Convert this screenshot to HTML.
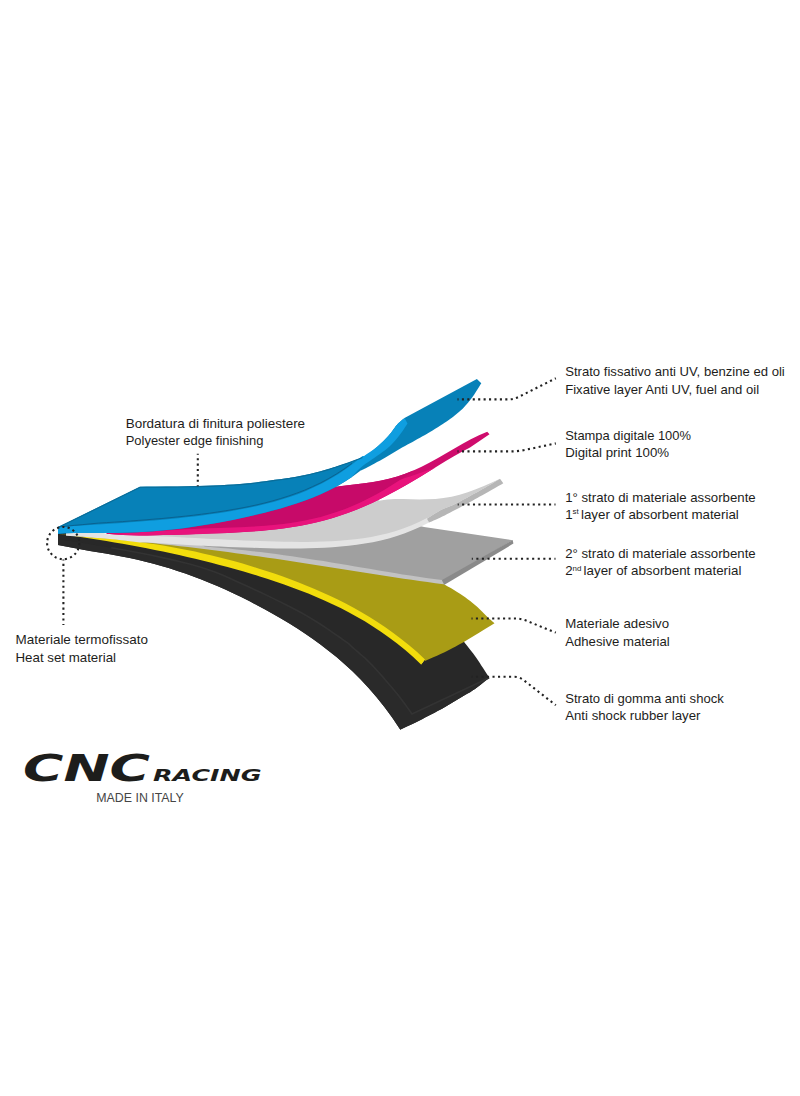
<!DOCTYPE html>
<html lang="it"><head><meta charset="utf-8"><title>CNC Racing - struttura a strati</title>
<style>
html,body{margin:0;padding:0;background:#fff;}
body{width:800px;height:1096px;overflow:hidden;}
svg{display:block;}
.lbl text{font-family:"Liberation Sans",sans-serif;font-size:12.1px;fill:#1d1d1b;}
</style></head><body>
<svg width="800" height="1096" viewBox="0 0 800 1096">
<rect width="800" height="1096" fill="#fff"/>
<g id="layers">
<path d="M58.0 531.0 L70.0 533.9 L78.0 535.1 L86.0 536.3 L94.0 537.6 L102.0 538.8 L110.0 540.1 L118.0 541.5 L126.0 542.9 L133.9 544.4 L141.9 545.9 L149.9 547.4 L157.9 549.0 L165.9 550.7 L173.9 552.4 L181.9 554.2 L189.9 556.0 L197.9 557.9 L205.9 559.9 L213.9 561.9 L221.9 564.0 L229.9 566.1 L237.9 568.4 L245.8 570.7 L253.8 573.1 L261.8 575.6 L269.8 578.1 L277.8 580.8 L285.8 583.6 L293.8 586.5 L301.8 589.5 L309.8 592.7 L317.8 596.0 L325.8 599.6 L333.8 603.3 L341.8 607.2 L349.8 611.3 L357.8 615.7 L365.7 620.4 L373.7 625.4 L381.7 630.7 L389.7 636.4 L397.7 642.5 L405.7 649.1 L413.7 656.1 L421.7 663.6 L440.0 640.0 L458.0 633.0 L464.5 642.5 L465.7 644.0 L467.3 646.0 L469.2 648.4 L471.2 651.0 L473.2 653.6 L475.0 656.0 L476.6 658.3 L478.3 660.7 L479.8 663.1 L481.3 665.4 L482.7 667.6 L484.0 669.5 L485.1 671.3 L486.2 672.9 L487.2 674.4 L488.0 675.8 L488.7 676.9 L489.2 677.7 L487.7 679.0 L485.5 680.7 L483.0 682.8 L480.3 685.0 L477.6 687.1 L475.0 689.0 L472.5 690.6 L470.1 692.2 L467.6 693.6 L465.0 695.1 L462.5 696.5 L460.0 698.0 L457.5 699.5 L455.0 701.0 L452.5 702.6 L450.0 704.1 L447.5 705.6 L445.0 707.0 L442.5 708.4 L440.0 709.8 L437.5 711.1 L435.0 712.4 L432.5 713.7 L430.0 715.0 L427.5 716.3 L425.0 717.6 L422.5 718.9 L420.0 720.2 L417.5 721.5 L415.0 722.7 L412.4 724.0 L409.6 725.3 L406.8 726.6 L404.2 727.8 L402.1 728.8 L400.5 729.5 L400.5 730.1 L392.5 718.1 L384.6 707.2 L376.6 697.2 L368.6 688.0 L360.7 679.4 L352.7 671.5 L344.7 664.2 L336.8 657.3 L328.8 650.9 L320.8 644.8 L312.9 639.0 L304.9 633.5 L297.0 628.3 L289.0 623.3 L281.0 618.5 L273.1 613.9 L265.1 609.5 L257.1 605.2 L249.2 601.1 L241.2 597.1 L233.2 593.3 L225.3 589.6 L217.3 586.1 L209.3 582.7 L201.4 579.5 L193.4 576.5 L185.4 573.6 L177.5 570.9 L169.5 568.3 L161.5 566.0 L153.6 563.8 L145.6 561.7 L137.7 559.8 L129.7 558.1 L121.7 556.5 L113.8 555.0 L105.8 553.6 L97.8 552.2 L89.9 550.9 L81.9 549.5 L73.9 548.1 L66.0 546.6 L58.0 544.9 Z" fill="#282828"/>
<path d="M58.0 539.0 L67.2 540.5 L80.1 542.6 L95.2 545.1 L111.3 547.8 L126.7 550.5 L140.0 553.0 L151.5 555.3 L162.4 557.6 L172.6 559.9 L182.3 562.2 L191.4 564.6 L200.0 567.0 L207.6 569.4 L214.1 571.7 L220.0 574.1 L225.9 576.6 L232.4 579.6 L240.0 583.0 L249.1 587.1 L259.3 591.8 L270.0 596.9 L280.7 602.1 L290.9 607.2 L300.0 612.0 L308.1 616.6 L315.7 621.3 L322.8 625.8 L329.3 630.1 L335.0 634.1 L340.0 637.5 L343.9 640.3 L346.9 642.4 L349.1 644.2 L350.9 645.9 L352.8 647.6 L355.0 649.5 L357.5 651.6 L360.0 653.8 L362.5 656.0 L365.0 658.2 L367.5 660.6 L370.0 663.0 L372.5 665.6 L375.0 668.2 L377.5 671.0 L380.0 673.8 L382.5 676.6 L385.0 679.5 L387.5 682.4 L390.1 685.4 L392.7 688.5 L395.2 691.6 L397.7 694.6 L400.0 697.5 L402.3 700.5 L404.7 703.7 L406.9 706.9 L409.0 709.8 L410.7 712.2 L412.0 714.0 L489.2 677.7 L487.7 679.0 L485.5 680.7 L483.0 682.8 L480.3 685.0 L477.6 687.1 L475.0 689.0 L472.5 690.6 L470.1 692.2 L467.6 693.6 L465.0 695.1 L462.5 696.5 L460.0 698.0 L457.5 699.5 L455.0 701.0 L452.5 702.6 L450.0 704.1 L447.5 705.6 L445.0 707.0 L442.5 708.4 L440.0 709.8 L437.5 711.1 L435.0 712.4 L432.5 713.7 L430.0 715.0 L427.5 716.3 L425.0 717.6 L422.5 718.9 L420.0 720.2 L417.5 721.5 L415.0 722.7 L412.4 724.0 L409.6 725.3 L406.8 726.6 L404.2 727.8 L402.1 728.8 L400.5 729.5 L400.5 730.1 L392.5 718.1 L384.6 707.2 L376.6 697.2 L368.6 688.0 L360.7 679.4 L352.7 671.5 L344.7 664.2 L336.8 657.3 L328.8 650.9 L320.8 644.8 L312.9 639.0 L304.9 633.5 L297.0 628.3 L289.0 623.3 L281.0 618.5 L273.1 613.9 L265.1 609.5 L257.1 605.2 L249.2 601.1 L241.2 597.1 L233.2 593.3 L225.3 589.6 L217.3 586.1 L209.3 582.7 L201.4 579.5 L193.4 576.5 L185.4 573.6 L177.5 570.9 L169.5 568.3 L161.5 566.0 L153.6 563.8 L145.6 561.7 L137.7 559.8 L129.7 558.1 L121.7 556.5 L113.8 555.0 L105.8 553.6 L97.8 552.2 L89.9 550.9 L81.9 549.5 L73.9 548.1 L66.0 546.6 L58.0 544.9 Z" fill="#2a2a2a"/>
<path d="M111.3 547.8 L126.7 550.5 L140.0 553.0 L151.5 555.3 L162.4 557.6 L172.6 559.9 L182.3 562.2 L191.4 564.6 L200.0 567.0 L207.6 569.4 L214.1 571.7 L220.0 574.1 L225.9 576.6 L232.4 579.6 L240.0 583.0 L249.1 587.1 L259.3 591.8 L270.0 596.9 L280.7 602.1 L290.9 607.2 L300.0 612.0 L308.1 616.6 L315.7 621.3 L322.8 625.8 L329.3 630.1 L335.0 634.1 L340.0 637.5 L343.9 640.3 L346.9 642.4 L349.1 644.2 L350.9 645.9 L352.8 647.6 L355.0 649.5 L357.5 651.6 L360.0 653.8 L362.5 656.0 L365.0 658.2 L367.5 660.6 L370.0 663.0 L372.5 665.6 L375.0 668.2 L377.5 671.0 L380.0 673.8 L382.5 676.6 L385.0 679.5 L387.5 682.4 L390.1 685.4 L392.7 688.5 L395.2 691.6 L397.7 694.6 L400.0 697.5 L402.3 700.5 L404.7 703.7 L406.9 706.9 L409.0 709.8 L410.7 712.2 L412.0 714.0 L489.2 677.7" fill="none" stroke="#333333" stroke-width="1.6"/>
<path d="M100.0 537.5 L107.9 538.3 L115.8 539.0 L123.7 539.7 L131.6 540.3 L139.5 540.9 L147.4 541.5 L155.3 542.0 L163.2 542.5 L171.1 543.0 L178.9 543.5 L186.8 543.9 L194.7 544.3 L202.6 544.7 L210.5 545.1 L218.4 545.5 L226.3 545.8 L234.2 546.1 L242.1 546.4 L250.0 546.7 L257.9 547.0 L265.8 547.2 L273.7 547.3 L281.6 547.4 L289.5 547.5 L297.4 547.5 L305.3 547.4 L313.2 547.2 L321.1 546.9 L328.9 546.5 L336.8 546.0 L344.7 545.3 L352.6 544.4 L360.5 543.3 L368.4 542.0 L376.3 540.5 L384.2 538.6 L392.1 536.5 L400.0 534.0 L443.5 584.0 L445.3 585.0 L447.8 586.5 L450.8 588.1 L454.0 590.0 L457.1 591.9 L460.0 593.7 L462.6 595.5 L465.2 597.3 L467.7 599.2 L470.2 601.1 L472.6 603.0 L475.0 605.0 L477.4 607.1 L479.7 609.3 L482.0 611.6 L484.2 613.8 L486.2 615.8 L488.0 617.5 L489.5 618.9 L490.9 620.1 L492.1 621.2 L493.1 622.0 L493.9 622.7 L494.5 623.3 L490.9 625.5 L485.9 628.6 L479.9 632.2 L473.7 636.0 L467.9 639.5 L463.0 642.4 L459.1 644.6 L455.7 646.5 L452.7 648.1 L449.9 649.5 L447.0 650.9 L444.0 652.4 L440.6 654.0 L437.0 655.7 L433.3 657.3 L429.9 658.8 L427.1 660.1 L425.0 661.0 L425.0 660.5 L417.1 653.1 L409.1 646.3 L401.2 639.9 L393.3 633.9 L385.4 628.2 L377.4 622.9 L369.5 618.0 L361.6 613.3 L353.7 608.8 L345.7 604.6 L337.8 600.6 L329.9 596.8 L322.0 593.2 L314.0 589.7 L306.1 586.4 L298.2 583.3 L290.2 580.3 L282.3 577.4 L274.4 574.6 L266.5 571.9 L258.5 569.4 L250.6 566.9 L242.7 564.6 L234.8 562.4 L226.8 560.2 L218.9 558.2 L211.0 556.2 L203.0 554.4 L195.1 552.7 L187.2 551.0 L179.3 549.4 L171.3 548.0 L163.4 546.6 L155.5 545.4 L147.6 544.2 L139.6 543.1 L131.7 542.1 L123.8 541.2 L115.9 540.3 L107.9 539.6 L100.0 538.9 Z" fill="#a99c15"/>
<path d="M62.0 534.3 L76.0 536.0 L83.9 536.6 L91.9 537.2 L99.8 537.9 L107.7 538.6 L115.7 539.3 L123.6 540.2 L131.5 541.1 L139.5 542.1 L147.4 543.2 L155.3 544.3 L163.2 545.6 L171.2 547.0 L179.1 548.4 L187.0 550.0 L195.0 551.6 L202.9 553.4 L210.8 555.2 L218.8 557.2 L226.7 559.2 L234.6 561.3 L242.6 563.6 L250.5 565.9 L258.4 568.4 L266.4 570.9 L274.3 573.6 L282.2 576.3 L290.2 579.2 L298.1 582.2 L306.0 585.4 L314.0 588.7 L321.9 592.2 L329.8 595.8 L337.8 599.6 L345.7 603.6 L353.6 607.8 L361.5 612.2 L369.5 616.9 L377.4 621.9 L385.3 627.2 L393.3 632.9 L401.2 638.9 L409.1 645.3 L417.1 652.1 L425.0 659.5 L421.3 664.6 L421.3 664.7 L413.2 657.1 L405.2 650.1 L397.1 643.5 L389.0 637.4 L380.9 631.7 L372.9 626.4 L364.8 621.3 L356.7 616.7 L348.6 612.2 L340.6 608.1 L332.5 604.2 L324.4 600.5 L316.3 596.9 L308.3 593.6 L300.2 590.4 L292.1 587.4 L284.1 584.5 L276.0 581.7 L267.9 579.0 L259.8 576.4 L251.8 573.9 L243.7 571.6 L235.6 569.2 L227.5 567.0 L219.5 564.9 L211.4 562.8 L203.3 560.7 L195.2 558.8 L187.2 556.9 L179.1 555.0 L171.0 553.3 L163.0 551.6 L154.9 549.9 L146.8 548.3 L138.7 546.7 L130.7 545.2 L122.6 543.8 L114.5 542.4 L106.4 541.1 L98.4 539.8 L90.3 538.5 L82.2 537.3 L74.1 536.0 L66.1 534.9 L58.0 533.7 Z" fill="#f2dd0c"/>
<path d="M190.0 544.1 L197.9 544.5 L205.9 544.9 L213.8 545.3 L221.7 545.6 L229.7 546.0 L237.6 546.3 L245.5 546.6 L253.4 546.8 L261.4 547.1 L269.3 547.2 L277.2 547.4 L285.2 547.5 L293.1 547.5 L301.0 547.4 L309.0 547.3 L316.9 547.1 L324.8 546.7 L332.8 546.3 L340.7 545.6 L348.6 544.9 L356.6 543.9 L364.5 542.7 L372.4 541.3 L380.3 539.6 L388.3 537.6 L396.2 535.2 L404.1 532.6 L412.1 529.5 L420.0 526.0 L424.0 527.0 L512.7 540.2 L442.6 581.5 L442.0 583.2 L434.1 582.2 L426.2 581.1 L418.4 580.0 L410.5 578.9 L402.6 577.7 L394.8 576.5 L386.9 575.3 L379.0 574.1 L371.1 572.9 L363.2 571.6 L355.4 570.4 L347.5 569.1 L339.6 567.9 L331.8 566.6 L323.9 565.4 L316.0 564.2 L308.1 562.9 L300.2 561.7 L292.4 560.5 L284.5 559.3 L276.6 558.2 L268.8 557.0 L260.9 555.9 L253.0 554.8 L245.1 553.7 L237.2 552.6 L229.4 551.5 L221.5 550.5 L213.6 549.5 L205.8 548.5 L197.9 547.5 L190.0 546.6 Z" fill="#a0a0a0"/>
<path d="M140.0 540.9 L147.5 541.5 L155.0 542.0 L162.5 542.5 L170.0 542.9 L177.5 543.4 L185.0 543.8 L192.5 544.2 L200.0 544.6 L205.0 546.5 L212.9 547.2 L220.8 547.9 L228.7 548.6 L236.6 549.4 L244.5 550.3 L252.4 551.2 L260.3 552.1 L268.2 553.1 L276.1 554.1 L284.0 555.2 L291.9 556.3 L299.8 557.5 L307.7 558.7 L315.6 559.9 L323.5 561.1 L331.4 562.4 L339.3 563.7 L347.2 565.1 L355.1 566.4 L363.0 567.8 L370.9 569.1 L378.8 570.4 L386.7 571.8 L394.6 573.1 L402.5 574.4 L410.4 575.6 L418.3 576.8 L426.2 578.0 L434.1 579.1 L442.0 580.1 L443.5 584.0 L443.5 584.2 L435.5 583.2 L427.5 582.1 L419.5 581.0 L411.6 579.8 L403.6 578.7 L395.6 577.5 L387.6 576.2 L379.6 575.0 L371.6 573.8 L363.6 572.5 L355.6 571.2 L347.7 570.0 L339.7 568.7 L331.7 567.4 L323.7 566.2 L315.7 564.9 L307.7 563.7 L299.7 562.4 L291.8 561.2 L283.8 560.0 L275.8 558.8 L267.8 557.7 L259.8 556.5 L251.8 555.4 L243.8 554.3 L235.8 553.2 L227.9 552.1 L219.9 551.1 L211.9 550.1 L203.9 549.1 L195.9 548.1 L187.9 547.1 L179.9 546.2 L171.9 545.3 L164.0 544.4 L156.0 543.5 L148.0 542.6 L140.0 541.7 Z" fill="#c2c2c2"/>
<path d="M512.7 540 L513.4 543.6 L444 585 L442 580 Z" fill="#8a8a8a"/>
<path d="M120.0 533.5 L128.1 533.0 L136.2 532.5 L144.3 531.9 L152.4 531.4 L160.5 530.8 L168.6 530.3 L176.7 529.8 L184.8 529.4 L192.8 529.0 L200.9 528.6 L209.0 528.3 L217.1 528.0 L225.2 527.8 L233.3 527.5 L241.4 527.2 L249.5 526.8 L257.6 526.3 L265.7 525.7 L273.8 525.0 L281.9 524.2 L290.0 523.1 L298.1 521.8 L306.2 520.3 L314.2 518.5 L322.3 516.5 L330.4 514.1 L338.5 511.4 L346.6 508.4 L354.7 505.0 L362.8 501.3 L370.9 497.2 L379.0 492.9 L379.0 500.7 L387.1 499.5 L395.1 499.0 L403.2 499.0 L411.3 499.2 L419.3 499.4 L427.4 499.3 L435.5 498.9 L443.5 498.1 L451.6 496.7 L459.7 494.8 L467.7 492.3 L475.8 489.3 L483.9 486.0 L491.9 482.4 L500.0 478.7 L498.4 479.7 L496.1 481.1 L493.4 482.7 L490.6 484.4 L487.7 486.1 L485.0 487.7 L482.5 489.1 L480.0 490.5 L477.5 491.9 L475.0 493.3 L472.5 494.6 L470.0 496.0 L467.5 497.4 L465.0 498.7 L462.5 500.1 L460.0 501.5 L457.5 502.8 L455.0 504.0 L452.5 505.2 L449.9 506.2 L447.4 507.2 L444.9 508.3 L442.4 509.3 L440.0 510.5 L437.6 511.9 L435.0 513.4 L432.6 515.0 L430.3 516.5 L428.4 517.8 L427.0 518.7 L428.0 521.0 L427.0 522.7 L418.9 526.7 L410.8 530.2 L402.8 533.3 L394.7 535.9 L386.6 538.2 L378.5 540.2 L370.4 541.8 L362.4 543.2 L354.3 544.4 L346.2 545.3 L338.1 546.1 L330.1 546.6 L322.0 547.1 L313.9 547.4 L305.8 547.6 L297.7 547.7 L289.7 547.7 L281.6 547.6 L273.5 547.5 L265.4 547.4 L257.3 547.1 L249.3 546.9 L241.2 546.6 L233.1 546.3 L225.0 546.0 L216.9 545.6 L208.9 545.2 L200.8 544.8 L192.7 544.4 L184.6 544.0 L176.6 543.5 L168.5 543.0 L160.4 542.5 L152.3 542.0 L144.2 541.4 L136.2 540.8 L128.1 540.2 L120.0 539.5 Z" fill="#cdcdcd"/>
<path d="M66.0 532.3 L74.5 532.1 L83.0 532.0 L91.5 532.0 L100.0 532.0 L108.0 534.2 L116.0 534.4 L124.0 534.7 L131.9 535.0 L139.9 535.3 L147.9 535.7 L155.8 536.0 L163.8 536.4 L171.8 536.8 L179.8 537.2 L187.8 537.7 L195.7 538.1 L203.7 538.5 L211.7 538.9 L219.6 539.3 L227.6 539.7 L235.6 540.0 L243.6 540.4 L251.5 540.7 L259.5 541.0 L267.5 541.3 L275.5 541.5 L283.4 541.7 L291.4 541.8 L299.4 541.9 L307.4 541.9 L315.4 541.7 L323.3 541.5 L331.3 541.2 L339.3 540.7 L347.2 540.1 L355.2 539.2 L363.2 538.2 L371.2 536.9 L379.1 535.3 L387.1 533.4 L395.1 531.2 L403.1 528.6 L411.1 525.6 L419.0 522.1 L427.0 518.0 L429.0 522.5 L429.0 522.4 L421.0 526.5 L412.9 530.1 L404.9 533.3 L396.9 536.0 L388.9 538.4 L380.8 540.4 L372.8 542.2 L364.8 543.6 L356.7 544.8 L348.7 545.8 L340.7 546.6 L332.7 547.3 L324.6 547.7 L316.6 548.1 L308.6 548.3 L300.5 548.5 L292.5 548.5 L284.5 548.5 L276.5 548.4 L268.4 548.2 L260.4 548.0 L252.4 547.8 L244.3 547.5 L236.3 547.2 L228.3 546.9 L220.3 546.6 L212.2 546.2 L204.2 545.8 L196.2 545.4 L188.1 545.0 L180.1 544.5 L172.1 544.1 L164.1 543.6 L156.0 543.0 L148.0 542.5 L140.0 542.4 L131.8 541.4 L123.6 540.5 L115.3 539.6 L107.1 538.8 L98.9 538.1 L90.7 537.4 L82.4 536.8 L74.2 536.2 L66.0 535.7 Z" fill="#e4e4e4"/>
<path d="M500.0 478.7 L498.4 479.7 L496.1 481.1 L493.4 482.7 L490.6 484.4 L487.7 486.1 L485.0 487.7 L482.5 489.1 L480.0 490.5 L477.5 491.9 L475.0 493.3 L472.5 494.6 L470.0 496.0 L467.5 497.4 L465.0 498.7 L462.5 500.1 L460.0 501.5 L457.5 502.8 L455.0 504.0 L452.5 505.2 L449.9 506.2 L447.4 507.2 L444.9 508.3 L442.4 509.3 L440.0 510.5 L437.6 511.9 L435.0 513.4 L432.6 515.0 L430.3 516.5 L428.4 517.8 L427.0 518.7 L429.0 522.5 L430.2 522.0 L431.7 521.4 L433.6 520.6 L435.6 519.7 L437.8 518.7 L440.0 517.7 L442.3 516.6 L444.7 515.4 L447.2 514.1 L449.9 512.7 L452.5 511.3 L455.0 510.0 L457.5 508.7 L460.0 507.4 L462.5 506.0 L465.0 504.7 L467.5 503.4 L470.0 502.0 L472.5 500.7 L474.9 499.3 L477.3 498.0 L479.8 496.6 L482.3 495.2 L485.0 493.7 L488.1 492.0 L491.5 490.0 L495.1 487.9 L498.4 486.0 L501.3 484.4 L503.3 483.2 Z" fill="#b6b6b6"/>
<path d="M100.0 524.3 L107.9 523.8 L115.9 523.3 L123.8 522.8 L131.7 522.2 L139.7 521.6 L147.6 521.0 L155.5 520.3 L163.4 519.6 L171.4 518.9 L179.3 518.1 L187.2 517.2 L195.2 516.3 L203.1 515.3 L211.0 514.2 L219.0 513.1 L226.9 511.9 L234.8 510.5 L242.8 509.0 L250.7 507.4 L258.6 505.7 L266.6 503.8 L274.5 501.7 L282.4 499.3 L290.3 496.7 L298.3 493.9 L306.2 490.7 L314.1 487.2 L322.1 483.4 L330.0 479.1 L331.5 487.5 L339.7 486.2 L347.9 485.2 L356.1 484.3 L364.3 483.3 L372.5 482.2 L380.7 480.7 L388.9 478.8 L397.1 476.5 L405.3 473.7 L413.4 470.4 L421.6 466.7 L429.8 462.6 L438.0 458.1 L446.2 453.3 L454.4 448.5 L462.6 443.8 L470.8 439.2 L479.0 435.2 L487.2 431.8 L489.5 434.2 L470.0 447.5 L461.9 451.8 L453.9 456.3 L445.8 461.1 L437.7 466.0 L429.7 470.9 L421.6 475.9 L413.5 480.7 L405.5 485.4 L397.4 490.0 L389.3 494.3 L381.3 498.5 L373.2 502.4 L365.1 506.0 L357.1 509.4 L349.0 512.5 L340.9 515.3 L332.9 517.9 L324.8 520.2 L316.7 522.3 L308.7 524.1 L300.6 525.7 L292.5 527.0 L284.5 528.2 L276.4 529.3 L268.3 530.1 L260.3 530.9 L252.2 531.5 L244.1 532.0 L236.1 532.5 L228.0 532.9 L219.9 533.2 L211.9 533.5 L203.8 533.8 L195.7 534.1 L187.7 534.4 L179.6 534.7 L171.5 534.9 L163.5 535.1 L155.4 535.3 L147.3 535.4 L139.3 535.4 L131.2 535.3 L123.1 535.0 L115.1 534.6 L107.0 533.8 Z" fill="#cf0c6d"/>
<path d="M100.0 524.3 L107.9 523.8 L115.9 523.3 L123.8 522.8 L131.7 522.2 L139.7 521.6 L147.6 521.0 L155.5 520.3 L163.4 519.6 L171.4 518.9 L179.3 518.1 L187.2 517.2 L195.2 516.3 L203.1 515.3 L211.0 514.2 L219.0 513.1 L226.9 511.9 L234.8 510.5 L242.8 509.0 L250.7 507.4 L258.6 505.7 L266.6 503.8 L274.5 501.7 L282.4 499.3 L290.3 496.7 L298.3 493.9 L306.2 490.7 L314.1 487.2 L322.1 483.4 L330.0 479.1 L331.5 487.5 L339.8 486.2 L348.0 485.2 L356.2 484.3 L364.5 483.3 L372.8 482.1 L381.0 480.6 L389.2 478.7 L397.5 476.4 L405.8 473.5 L414.0 470.2 L410.5 472.9 L402.5 478.4 L394.5 483.6 L386.5 488.5 L378.6 493.1 L370.6 497.4 L362.6 501.4 L354.6 505.1 L346.6 508.4 L338.6 511.4 L330.6 514.0 L322.6 516.4 L314.7 518.4 L306.7 520.2 L298.7 521.7 L290.7 523.0 L282.7 524.1 L274.7 524.9 L266.7 525.7 L258.8 526.2 L250.8 526.7 L242.8 527.1 L234.8 527.4 L226.8 527.7 L218.8 528.0 L210.8 528.3 L202.8 528.6 L194.9 528.9 L186.9 529.3 L178.9 529.7 L170.9 530.1 L162.9 530.6 L154.9 531.2 L146.9 531.8 L138.9 532.3 L131.0 532.9 L123.0 533.3 L115.0 533.7 L107.0 533.9 Z" fill="#c70a69"/>
<path d="M107.0 533.9 L114.9 533.7 L122.8 533.3 L130.8 532.9 L138.7 532.3 L146.6 531.8 L154.5 531.2 L162.4 530.7 L170.4 530.2 L178.3 529.7 L186.2 529.3 L194.1 528.9 L202.0 528.6 L209.9 528.3 L217.9 528.0 L225.8 527.8 L233.7 527.5 L241.6 527.2 L249.5 526.8 L257.5 526.3 L265.4 525.8 L273.3 525.1 L281.2 524.2 L289.1 523.2 L297.1 522.0 L305.0 520.6 L312.9 518.8 L320.8 516.9 L328.7 514.6 L336.6 512.0 L344.6 509.2 L352.5 506.0 L360.4 502.4 L368.3 498.6 L376.2 494.4 L384.2 489.9 L392.1 485.1 L400.0 480.0 L405.0 478.1 L410.0 476.5 L415.0 474.8 L420.0 473.1 L425.0 471.3 L430.0 469.5 L435.0 467.7 L435.0 467.7 L427.0 472.6 L419.0 477.4 L411.0 482.2 L403.0 486.8 L395.0 491.3 L387.0 495.5 L379.0 499.6 L371.0 503.4 L363.0 506.9 L355.0 510.2 L347.0 513.2 L339.0 516.0 L331.0 518.4 L323.0 520.7 L315.0 522.7 L307.0 524.4 L299.0 525.9 L291.0 527.3 L283.0 528.4 L275.0 529.4 L267.0 530.3 L259.0 531.0 L251.0 531.6 L243.0 532.1 L235.0 532.5 L227.0 532.9 L219.0 533.3 L211.0 533.6 L203.0 533.9 L195.0 534.2 L187.0 534.4 L179.0 534.7 L171.0 534.9 L163.0 535.1 L155.0 535.3 L147.0 535.4 L139.0 535.4 L131.0 535.3 L123.0 535.0 L115.0 534.6 L107.0 533.8 Z" fill="#e8137c"/>
<path d="M58.0 527.0 L140.0 486.7 L146.5 486.6 L155.6 486.6 L166.4 486.5 L177.7 486.4 L188.6 486.2 L198.0 486.0 L206.1 485.8 L213.6 485.5 L220.8 485.2 L227.5 484.8 L233.9 484.4 L240.0 484.0 L245.7 483.5 L250.9 483.0 L255.8 482.4 L260.4 481.8 L265.1 481.2 L270.0 480.5 L275.0 479.8 L280.0 479.2 L285.0 478.5 L290.0 477.8 L295.0 476.9 L300.0 476.0 L305.0 475.0 L309.9 473.9 L314.8 472.7 L319.8 471.4 L324.9 470.0 L330.0 468.5 L335.5 466.8 L341.3 464.9 L347.2 462.9 L352.9 460.9 L358.1 458.9 L362.5 457.0 L366.0 455.2 L368.9 453.5 L371.3 451.8 L373.4 450.1 L375.4 448.3 L377.5 446.5 L379.7 444.6 L381.9 442.5 L384.0 440.5 L385.9 438.4 L387.8 436.4 L389.5 434.5 L391.0 432.7 L392.3 431.0 L393.5 429.3 L394.7 427.7 L395.8 426.1 L397.0 424.7 L398.3 423.3 L399.8 422.0 L401.2 420.7 L402.6 419.6 L403.7 418.7 L404.5 418.0 L476.9 379.0 L481.3 383.3 L480.3 384.8 L479.0 386.9 L477.4 389.4 L475.8 392.1 L474.1 394.7 L472.5 396.9 L471.0 398.9 L469.6 400.7 L468.2 402.5 L466.7 404.2 L465.3 405.8 L463.8 407.4 L462.4 408.9 L460.9 410.3 L459.5 411.6 L458.0 412.8 L456.5 414.1 L455.0 415.3 L453.5 416.5 L451.9 417.7 L450.4 418.8 L448.7 420.0 L447.0 421.2 L445.0 422.5 L442.8 424.0 L440.4 425.5 L437.8 427.2 L435.2 428.8 L432.6 430.4 L430.0 432.0 L427.5 433.5 L425.0 434.9 L422.5 436.3 L420.0 437.7 L417.5 439.1 L415.0 440.5 L412.5 441.9 L410.0 443.2 L407.5 444.6 L405.0 445.9 L402.5 447.3 L400.0 448.7 L397.5 450.2 L395.0 451.7 L392.5 453.2 L390.0 454.7 L387.5 456.2 L385.0 457.7 L382.4 459.2 L379.8 460.7 L377.1 462.1 L374.6 463.5 L372.2 464.8 L370.0 466.0 L368.0 467.0 L366.2 467.9 L364.6 468.8 L363.1 469.5 L361.9 470.1 L361.0 470.5 L361.0 470.3 L353.0 476.2 L345.1 481.5 L337.1 486.2 L329.1 490.3 L321.1 494.0 L313.2 497.4 L305.2 500.5 L297.2 503.3 L289.2 505.8 L281.3 508.2 L273.3 510.4 L265.3 512.5 L257.3 514.5 L249.4 516.3 L241.4 518.1 L233.4 519.7 L225.4 521.3 L217.5 522.8 L209.5 524.2 L201.5 525.5 L193.6 526.8 L185.6 527.9 L177.6 528.9 L169.6 529.8 L161.7 530.5 L153.7 531.2 L145.7 531.8 L137.7 532.2 L129.8 532.5 L121.8 532.7 L113.8 532.9 L105.8 533.0 L97.9 533.0 L89.9 533.0 L81.9 533.0 L73.9 533.1 L66.0 533.3 L58.0 533.7 Z" fill="#0781b8"/>
<path d="M58.0 527.0 L66.0 526.5 L74.0 525.9 L82.0 525.4 L90.1 524.9 L98.1 524.5 L106.1 523.9 L114.1 523.4 L122.1 522.9 L130.1 522.3 L138.1 521.7 L146.1 521.1 L154.2 520.4 L162.2 519.7 L170.2 519.0 L178.2 518.2 L186.2 517.3 L194.2 516.4 L202.2 515.4 L210.2 514.3 L218.3 513.2 L226.3 512.0 L234.3 510.6 L242.3 509.1 L250.3 507.5 L258.3 505.8 L266.3 503.8 L274.4 501.7 L282.4 499.3 L290.4 496.7 L298.4 493.9 L306.4 490.7 L314.4 487.1 L322.4 483.2 L330.4 478.8 L338.5 474.0 L346.5 468.6 L354.5 462.6 L362.5 456.0 L364.2 455.9 L366.5 454.3 L369.2 452.5 L372.2 450.5 L375.0 448.5 L377.5 446.5 L379.7 444.6 L381.9 442.5 L384.0 440.5 L385.9 438.4 L387.8 436.4 L389.5 434.5 L391.0 432.7 L392.3 431.0 L393.5 429.3 L394.7 427.7 L395.8 426.1 L397.0 424.7 L398.3 423.3 L399.8 422.0 L401.2 420.7 L402.6 419.6 L403.7 418.7 L404.5 418.0 L407.5 423.5 L406.7 424.7 L405.7 426.3 L404.4 428.2 L403.0 430.4 L401.5 432.5 L400.0 434.5 L398.5 436.5 L396.9 438.5 L395.2 440.5 L393.4 442.5 L391.5 444.5 L389.5 446.5 L387.2 448.4 L384.7 450.4 L382.1 452.3 L379.5 454.2 L376.9 456.0 L374.5 457.7 L372.2 459.3 L370.1 460.8 L367.9 462.2 L365.9 463.6 L363.9 465.0 L362.0 466.5 L360.1 468.2 L358.1 470.1 L356.2 472.1 L354.5 473.9 L353.1 475.4 L352.0 476.5 L352.0 476.9 L344.1 482.1 L336.1 486.7 L328.2 490.8 L320.2 494.5 L312.3 497.8 L304.3 500.8 L296.4 503.5 L288.4 506.1 L280.5 508.4 L272.5 510.6 L264.6 512.7 L256.6 514.6 L248.7 516.5 L240.8 518.2 L232.8 519.9 L224.9 521.4 L216.9 522.9 L209.0 524.3 L201.0 525.6 L193.1 526.8 L185.1 527.9 L177.2 528.9 L169.2 529.8 L161.3 530.6 L153.4 531.2 L145.4 531.8 L137.5 532.2 L129.5 532.5 L121.6 532.7 L113.6 532.9 L105.7 533.0 L97.7 533.0 L89.8 533.0 L81.8 533.0 L73.9 533.1 L65.9 533.3 L58.0 533.7 Z" fill="#0f9ee0"/>
<path d="M59.0 526.9 L66.9 526.1 L74.8 525.3 L82.8 524.6 L90.7 523.8 L98.6 523.1 L106.5 522.6 L114.4 522.1 L122.4 521.6 L130.3 521.0 L138.2 520.4 L146.1 519.8 L154.0 519.1 L161.9 518.5 L169.9 517.7 L177.8 516.9 L185.7 516.1 L193.6 515.2 L201.5 514.2 L209.5 513.2 L217.4 512.0 L225.3 510.8 L233.2 509.5 L241.1 508.1 L249.1 506.5 L257.0 504.8 L264.9 502.9 L272.8 500.8 L280.7 498.5 L288.6 496.0 L296.6 493.2 L304.5 490.2 L312.4 486.7 L320.3 483.0 L328.2 478.8 L336.2 474.1 L344.1 469.0 L352.0 463.3" fill="none" stroke="#0a5f8c" stroke-width="0.9"/>
<path d="M58.6 527.3 L140.0 487.3 L146.5 487.2 L155.6 487.2 L166.4 487.1 L177.7 487.0 L188.6 486.8 L198.0 486.6 L206.1 486.4 L213.6 486.1 L220.8 485.8 L227.5 485.4 L233.9 485.0 L240.0 484.6 L245.7 484.1 L250.9 483.6 L255.8 483.0 L260.4 482.4 L265.1 481.8 L270.0 481.1 L275.0 480.4 L280.0 479.8 L285.0 479.1 L290.0 478.4 L295.0 477.5 L300.0 476.6 L305.0 475.6 L309.9 474.5 L314.8 473.3 L319.8 472.0 L324.9 470.6 L330.0 469.1 L335.6 467.3 L341.9 465.1 L348.1 462.9 L354.0 460.7 L358.9 458.9 L362.5 457.6" fill="none" stroke="#0a6c98" stroke-width="1.1" stroke-linejoin="round"/>
</g>
<g id="leaders"><path d="M457.5 399.4 L508.0 399.4 Q514.0 399.4 519.5 396.5 L555.8 378.3" fill="none" stroke="#222" stroke-width="2.1" stroke-dasharray="2.10 3.326" stroke-dashoffset="1.05"/><path d="M457.5 451.4 L511.0 451.4 Q518.0 451.4 525.0 449.9 L555.8 443.4" fill="none" stroke="#222" stroke-width="2.1" stroke-dasharray="2.10 3.405" stroke-dashoffset="1.05"/><path d="M457.7 504.5 L555.5 504.5" fill="none" stroke="#222" stroke-width="2.1" stroke-dasharray="2.10 3.333" stroke-dashoffset="1.05"/><path d="M471.8 558.7 L555.5 558.7" fill="none" stroke="#222" stroke-width="2.1" stroke-dasharray="2.10 3.480" stroke-dashoffset="1.05"/><path d="M471.5 618.5 L515.0 618.5 Q521.0 618.5 526.5 620.8 L555.8 632.6" fill="none" stroke="#222" stroke-width="2.1" stroke-dasharray="2.10 3.331" stroke-dashoffset="1.05"/><path d="M471.5 676.8 L514.0 676.8 Q519.5 676.8 523.5 680.0 L555.8 705.2" fill="none" stroke="#222" stroke-width="2.1" stroke-dasharray="2.10 3.411" stroke-dashoffset="1.05"/><path d="M197.8 453.8 L197.8 486.2" fill="none" stroke="#222" stroke-width="2.1" stroke-dasharray="2.10 3.300" stroke-dashoffset="1.05"/><path d="M63.4 559.4 L63.4 625.0" fill="none" stroke="#222" stroke-width="2.1" stroke-dasharray="2.10 3.367" stroke-dashoffset="1.05"/><circle cx="63.2" cy="543.1" r="16.1" fill="none" stroke="#222" stroke-width="2.1" stroke-dasharray="2.10 3.224"/></g>
<g class="lbl">
<text x="565.2" y="376.4" textLength="219.6" lengthAdjust="spacingAndGlyphs">Strato fissativo anti UV, benzine ed oli</text>
<text x="565.2" y="393.6" textLength="193.9" lengthAdjust="spacingAndGlyphs">Fixative layer Anti UV, fuel and oil</text>
<text x="565.2" y="439.6" textLength="125.8" lengthAdjust="spacingAndGlyphs">Stampa digitale 100%</text>
<text x="565.2" y="456.8" textLength="103.9" lengthAdjust="spacingAndGlyphs">Digital print 100%</text>
<text x="565.2" y="501.6" textLength="190.5" lengthAdjust="spacingAndGlyphs">1° strato di materiale assorbente</text>
<text x="565.2" y="518.8" textLength="173.6" lengthAdjust="spacingAndGlyphs">1<tspan font-size="7.2" dy="-4.6">st </tspan><tspan dy="4.6">layer of absorbent material</tspan></text>
<text x="565.2" y="558.1" textLength="190.5" lengthAdjust="spacingAndGlyphs">2° strato di materiale assorbente</text>
<text x="565.2" y="575.3" textLength="176.2" lengthAdjust="spacingAndGlyphs">2<tspan font-size="7.2" dy="-4.6">nd </tspan><tspan dy="4.6">layer of absorbent material</tspan></text>
<text x="565.2" y="628.1" textLength="103.9" lengthAdjust="spacingAndGlyphs">Materiale adesivo</text>
<text x="565.2" y="645.5" textLength="104.6" lengthAdjust="spacingAndGlyphs">Adhesive material</text>
<text x="565.2" y="702.6" textLength="158.6" lengthAdjust="spacingAndGlyphs">Strato di gomma anti shock</text>
<text x="565.2" y="719.8" textLength="135.2" lengthAdjust="spacingAndGlyphs">Anti shock rubber layer</text>
<text x="125.7" y="428.1" textLength="179.4" lengthAdjust="spacingAndGlyphs">Bordatura di finitura poliestere</text>
<text x="125.7" y="445.3" textLength="137.7" lengthAdjust="spacingAndGlyphs">Polyester edge finishing</text>
<text x="15.5" y="644.4" textLength="132.4" lengthAdjust="spacingAndGlyphs">Materiale termofissato</text>
<text x="15.5" y="661.8" textLength="100.5" lengthAdjust="spacingAndGlyphs">Heat set material</text>
</g>
<g font-family="'DejaVu Sans','Liberation Sans',sans-serif" font-weight="bold" font-style="oblique" fill="#1d1d1b">
<text x="23" y="780.9" font-size="37.2" textLength="127" lengthAdjust="spacingAndGlyphs">CNC</text>
<text x="153" y="780.6" font-size="15" textLength="108.5" lengthAdjust="spacingAndGlyphs">RACING</text>
</g>
<text x="96.3" y="802" font-size="12.4" fill="#454545" textLength="87.5" lengthAdjust="spacingAndGlyphs" font-family="'Liberation Sans',sans-serif">MADE IN ITALY</text>
</svg>
</body></html>
